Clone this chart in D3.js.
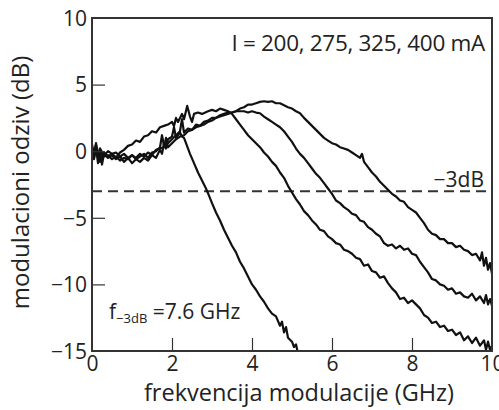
<!DOCTYPE html>
<html>
<head>
<meta charset="utf-8">
<script src="https://cdn.jsdelivr.net/npm/d3@7"></script>
<style>
html,body{margin:0;padding:0;background:#fff;}
svg{display:block;}
text{font-family:"Open Sans","DejaVu Sans",sans-serif;fill:#222;}
</style>
</head>
<body>
<svg id="chart" width="499" height="410"></svg>
<script>
// ---- data ----
const xTicks = [0, 2, 4, 6, 8, 10];
const yTicks = [-15, -10, -5, 0, 5, 10];
const currentsLabel = "I = 200, 275, 325, 400 mA";
const thresholdDb = -3;

const curve200 = [[0,0.3],[0.05,-0.4],[0.1,0.6],[0.15,-0.5],[0.2,0.2],[0.25,-1.0],[0.3,-0.2],[0.4,-0.5],[0.5,-0.3],[0.6,-0.6],[0.7,-0.4],[0.8,-0.8],[0.9,-0.5],[1.0,-0.9],[1.1,-0.6],[1.2,-0.8],[1.3,-0.5],[1.4,-0.7],[1.5,-0.3],[1.6,-0.5],[1.7,0.1],[1.75,-0.2],[1.8,0.6],[1.85,0.2],[1.9,0.9],[2.0,1.1],[2.05,1.8],[2.1,1.0],[2.2,1.4],[2.25,1.1],[2.3,1.0],[2.35,0.6],[2.45,-0.2],[2.55,-0.9],[2.65,-1.6],[2.75,-2.2],[2.85,-2.8],[2.92,-3.3],[3.0,-3.9],[3.1,-4.6],[3.2,-5.2],[3.3,-5.9],[3.4,-6.5],[3.5,-7.1],[3.6,-7.6],[3.7,-8.3],[3.8,-8.8],[3.9,-9.4],[4.0,-10.0],[4.1,-10.4],[4.2,-10.9],[4.3,-11.3],[4.4,-11.8],[4.5,-12.2],[4.6,-12.4],[4.7,-13.1],[4.75,-12.8],[4.8,-13.6],[4.85,-13.2],[4.9,-14.0],[5.0,-14.3],[5.05,-14.7],[5.1,-14.5],[5.15,-15.2]];

const curve275 = [[0,0.1],[0.05,-0.6],[0.1,0.4],[0.15,-0.3],[0.2,-0.8],[0.3,-0.1],[0.4,-0.4],[0.5,-0.2],[0.6,-0.5],[0.7,-0.1],[0.8,0.1],[0.9,0.4],[1.0,0.5],[1.1,0.8],[1.2,0.7],[1.3,1.1],[1.4,1.2],[1.5,1.5],[1.6,1.4],[1.7,1.8],[1.8,1.9],[1.9,2.0],[2.0,2.2],[2.05,1.9],[2.1,2.5],[2.15,2.2],[2.25,2.8],[2.3,2.4],[2.38,3.4],[2.45,2.6],[2.5,2.2],[2.55,2.8],[2.65,2.9],[2.75,2.8],[2.9,3.0],[3.0,3.1],[3.1,3.0],[3.2,3.2],[3.3,3.1],[3.4,3.0],[3.5,2.8],[3.6,2.4],[3.7,2.0],[3.8,1.6],[3.9,1.2],[4.0,0.9],[4.1,0.6],[4.2,0.3],[4.3,-0.1],[4.4,-0.4],[4.5,-0.8],[4.6,-1.1],[4.7,-1.6],[4.8,-2.0],[4.9,-2.6],[5.0,-3.1],[5.1,-3.6],[5.2,-4.0],[5.3,-4.5],[5.4,-4.8],[5.5,-5.2],[5.6,-5.5],[5.7,-5.9],[5.8,-6.0],[5.9,-6.4],[6.0,-6.6],[6.1,-6.9],[6.2,-7.0],[6.3,-7.4],[6.4,-7.5],[6.5,-7.7],[6.6,-8.0],[6.7,-8.1],[6.8,-8.6],[6.9,-8.5],[7.0,-9.0],[7.1,-9.1],[7.2,-9.5],[7.3,-9.4],[7.4,-9.9],[7.5,-10.3],[7.6,-10.6],[7.7,-11.1],[7.8,-11.0],[7.9,-11.4],[8.0,-11.2],[8.1,-11.5],[8.2,-11.8],[8.3,-12.3],[8.4,-12.5],[8.5,-12.9],[8.6,-12.8],[8.7,-13.2],[8.8,-13.1],[8.9,-13.5],[9.0,-13.4],[9.1,-13.8],[9.2,-13.6],[9.3,-14.2],[9.4,-13.9],[9.5,-14.4],[9.6,-14.0],[9.7,-14.6],[9.8,-14.2],[9.85,-14.9],[9.9,-14.3],[9.95,-14.9],[10,-14.6]];

const curve325 = [[0,0.2],[0.05,-0.5],[0.1,0.3],[0.15,-0.9],[0.2,0],[0.3,-0.4],[0.4,-0.3],[0.5,-0.6],[0.6,-0.4],[0.7,-0.7],[0.8,-0.5],[0.9,-0.6],[1.0,-0.3],[1.1,-0.6],[1.2,-0.4],[1.3,-0.2],[1.4,-0.5],[1.5,-0.1],[1.6,0],[1.7,0.3],[1.75,1.2],[1.8,0.4],[1.9,0.6],[2.0,0.9],[2.1,1.2],[2.2,1.5],[2.25,2.4],[2.3,1.4],[2.4,1.7],[2.5,1.6],[2.6,2.0],[2.7,1.9],[2.8,2.2],[2.9,2.3],[3.0,2.5],[3.1,2.5],[3.2,2.7],[3.3,2.8],[3.4,2.9],[3.5,2.9],[3.6,3.0],[3.7,3.0],[3.8,3.0],[3.9,2.9],[4.0,3.0],[4.1,2.9],[4.2,2.85],[4.3,2.6],[4.4,2.4],[4.5,2.2],[4.6,2.0],[4.7,1.8],[4.8,1.5],[4.9,1.1],[5.0,0.7],[5.1,0.2],[5.2,-0.2],[5.3,-0.5],[5.4,-0.9],[5.5,-1.3],[5.6,-1.7],[5.7,-2.0],[5.8,-2.4],[5.9,-2.8],[6.0,-3.2],[6.1,-3.7],[6.2,-3.9],[6.3,-4.2],[6.4,-4.4],[6.5,-4.7],[6.6,-4.8],[6.7,-5.2],[6.8,-5.3],[6.9,-5.7],[7.0,-5.9],[7.1,-6.2],[7.2,-6.4],[7.3,-6.9],[7.4,-7.1],[7.5,-7.0],[7.6,-7.3],[7.7,-7.1],[7.8,-7.4],[7.9,-7.3],[8.0,-7.7],[8.1,-7.8],[8.2,-8.3],[8.3,-8.7],[8.4,-9.1],[8.5,-9.6],[8.6,-9.7],[8.7,-10.0],[8.8,-10.1],[8.9,-10.4],[9.0,-10.3],[9.1,-10.7],[9.2,-10.6],[9.3,-10.9],[9.4,-11.0],[9.5,-10.7],[9.6,-11.2],[9.7,-10.9],[9.8,-11.4],[9.85,-10.8],[9.9,-11.5],[9.95,-11.1],[10,-11.6]];

const curve400 = [[0,0.5],[0.05,-0.2],[0.1,0.5],[0.15,-0.4],[0.2,0.2],[0.3,-0.3],[0.4,0],[0.5,-0.2],[0.6,-0.1],[0.7,-0.4],[0.8,-0.2],[0.9,-0.5],[1.0,-0.3],[1.1,-0.5],[1.2,-0.2],[1.3,-0.4],[1.4,-0.1],[1.5,-0.3],[1.6,0.1],[1.7,0.2],[1.8,0.3],[1.85,1.0],[1.9,0.3],[2.0,0.6],[2.1,0.9],[2.2,1.1],[2.3,1.2],[2.4,1.5],[2.5,1.6],[2.6,1.8],[2.7,1.9],[2.8,2.0],[2.9,2.2],[3.0,2.3],[3.1,2.5],[3.2,2.6],[3.3,2.7],[3.4,2.8],[3.5,2.9],[3.6,3.0],[3.7,3.2],[3.8,3.3],[3.9,3.5],[4.0,3.5],[4.1,3.6],[4.2,3.7],[4.3,3.75],[4.4,3.7],[4.5,3.75],[4.6,3.6],[4.7,3.6],[4.8,3.45],[4.9,3.3],[5.0,3.2],[5.1,3.0],[5.2,2.85],[5.3,2.5],[5.4,2.2],[5.5,1.9],[5.6,1.6],[5.7,1.3],[5.8,1.0],[5.9,0.8],[6.0,0.6],[6.1,0.5],[6.2,0.3],[6.3,0.2],[6.4,0.1],[6.5,-0.1],[6.6,-0.3],[6.7,-0.5],[6.75,-0.2],[6.8,-0.8],[6.9,-1.2],[7.0,-1.6],[7.1,-1.9],[7.2,-2.3],[7.3,-2.6],[7.4,-2.9],[7.5,-3.2],[7.6,-3.4],[7.7,-3.7],[7.8,-3.8],[7.9,-4.2],[8.0,-4.4],[8.1,-4.6],[8.2,-5.0],[8.3,-5.4],[8.4,-5.9],[8.5,-6.2],[8.6,-6.3],[8.7,-6.6],[8.8,-6.6],[8.9,-6.9],[9.0,-6.9],[9.1,-7.2],[9.2,-7.1],[9.3,-7.4],[9.4,-7.5],[9.5,-7.8],[9.6,-7.7],[9.7,-8.2],[9.75,-7.6],[9.8,-8.6],[9.85,-8.0],[9.9,-8.9],[9.95,-8.4],[10,-9.2]];

const curves = [curve200, curve275, curve325, curve400];

// ---- layout ----
const svg = d3.select("#chart");
const L = 92, R = 492, T = 18, B = 351;
const x = d3.scaleLinear().domain([0, 10]).range([L, R]);
const y = d3.scaleLinear().domain([-15, 10]).range([B, T]);

svg.append("defs").append("clipPath").attr("id", "clip")
  .append("rect").attr("x", L).attr("y", T).attr("width", R - L).attr("height", B - T);

// threshold dashed line
svg.append("line")
  .attr("x1", L).attr("x2", R)
  .attr("y1", y(thresholdDb)).attr("y2", y(thresholdDb))
  .attr("stroke", "#333").attr("stroke-width", 2)
  .attr("stroke-dasharray", "10,6");

// curves
const line = d3.line().x(d => x(d[0])).y(d => y(d[1]));
svg.append("g").attr("clip-path", "url(#clip)")
  .selectAll("path").data(curves).join("path")
  .attr("d", line)
  .attr("fill", "none")
  .attr("stroke", "#111")
  .attr("stroke-width", 2.2)
  .attr("stroke-linejoin", "round");

// axes
const xAxis = d3.axisBottom(x).tickValues(xTicks).tickSize(-13).tickPadding(5).tickFormat(d3.format("d"));
const yAxis = d3.axisLeft(y).tickValues(yTicks).tickSize(-13).tickPadding(5).tickFormat(d => d < 0 ? "\u2212" + Math.abs(d) : d);

const gx = svg.append("g").attr("transform", `translate(0,${B})`).call(xAxis);
const gy = svg.append("g").attr("transform", `translate(${L},0)`).call(yAxis);
[gx, gy].forEach(g => {
  g.select(".domain").remove();
  g.selectAll(".tick line").attr("stroke", "#333").attr("stroke-width", 1.2);
  g.selectAll(".tick text").attr("fill", "#222").style("font-size", "21px")
    .style("font-family", "'Open Sans', 'DejaVu Sans', sans-serif");
});
gx.selectAll(".tick text").attr("dy", "0.72em");
gy.selectAll(".tick text").attr("dy", "0.35em");
// hide tick marks at the frame edges
gx.selectAll(".tick").filter(d => d === 0 || d === 10).select("line").remove();
gy.selectAll(".tick").filter(d => d === -15 || d === 10).select("line").remove();

// frame
svg.append("rect").attr("x", L).attr("y", T).attr("width", R - L).attr("height", B - T)
  .attr("fill", "none").attr("stroke", "#333").attr("stroke-width", 2);

// labels
svg.append("text").attr("x", 485).attr("y", 51).attr("text-anchor", "end")
  .style("font-size", "22.5px").style("letter-spacing", "-0.3px").text(currentsLabel);

svg.append("text").attr("x", 484).attr("y", 187).attr("text-anchor", "end")
  .style("font-size", "21px").text("\u22123dB");

const f3 = svg.append("text").attr("x", 109).attr("y", 319).style("font-size", "21px");
f3.append("tspan").text("f");
f3.append("tspan").attr("dy", 4).style("font-size", "13px").text("\u22123dB");
f3.append("tspan").attr("dy", -4).text(" =7.6 GHz");

svg.append("text").attr("x", 299).attr("y", 401).attr("text-anchor", "middle")
  .style("font-size", "23.5px").text("frekvencija modulacije (GHz)");

svg.append("text").attr("transform", `translate(29,${(T + B) / 2 - 2}) rotate(-90)`)
  .attr("text-anchor", "middle").style("font-size", "24px").text("modulacioni odziv (dB)");
</script>
</body>
</html>
